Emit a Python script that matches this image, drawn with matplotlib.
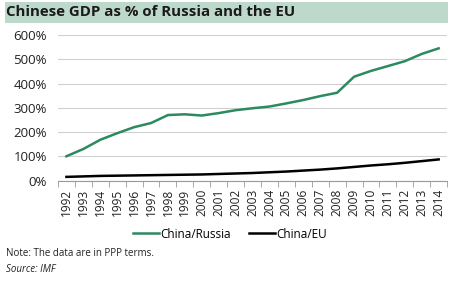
import matplotlib
matplotlib.use("Agg")
import matplotlib.pyplot as plt
from matplotlib.patches import Rectangle

years = [str(y) for y in range(1992, 2015)]
china_russia = [100, 130, 168, 195, 220, 237, 270, 273, 268, 278, 290, 298,
                305, 318, 332, 348, 362, 428, 452, 472, 492, 522, 545]
china_eu = [15, 17, 19, 20, 21, 22, 23, 24, 25, 27, 29, 31,
            34, 37, 41, 45, 50, 56, 62, 67, 73, 80, 87]
yticks = [0, 100, 200, 300, 400, 500, 600]

GREEN = "#2b8a5e"
plt.rcParams["font.family"] = ["Open Sans", "DejaVu Sans"]

fig = plt.figure(figsize=(4.6, 2.87), dpi=100)
ax = fig.add_axes([0.126, 0.371, 0.846, 0.507])

x = list(range(len(years)))
ax.plot(x, china_russia, color=GREEN, lw=1.8, label="China/Russia")
ax.plot(x, china_eu, color="black", lw=1.8, label="China/EU")

ax.set_xlim(-0.5, len(years) - 0.5)
ax.set_ylim(0, 600)
ax.set_yticks(yticks)
ax.set_yticklabels([f"{v}%" for v in yticks], fontsize=9.5, color="#222222")
ax.set_xticks(x)
ax.set_xticklabels(years, rotation=90, fontsize=8.6, color="#222222")
ax.set_xticks([i - 0.5 for i in range(len(years) + 1)], minor=True)
ax.tick_params(axis="x", which="major", length=0, pad=6)
ax.tick_params(axis="x", which="minor", length=4, color="#999999")
ax.tick_params(axis="y", length=0, pad=8)
ax.grid(axis="y", color="#d0d0d0", lw=0.8)
ax.set_axisbelow(True)
for s in ["left", "right", "top"]:
    ax.spines[s].set_visible(False)
ax.spines["bottom"].set_color("#999999")

# title band
fig.patches.append(Rectangle((5 / 460, 1 - 23 / 287), 443 / 460, 21 / 287,
                             transform=fig.transFigure, facecolor="#bcd9cb",
                             edgecolor="none", zorder=0))
fig.text(6 / 460, 1 - 12.5 / 287, "Chinese GDP as % of Russia and the EU",
         fontsize=10.8, fontweight="bold", color="#1a1a1a", va="center", ha="left")

fig.legend(loc="center", bbox_to_anchor=(0.5, 1 - 234 / 287), ncol=2,
           frameon=False, fontsize=8.5, handlelength=2.2, handletextpad=0.1,
           columnspacing=1.5)

fig.text(6 / 460, 1 - 253 / 287, "Note: The data are in PPP terms.",
         fontsize=7, color="#222222", va="center")
fig.text(6 / 460, 1 - 269 / 287, "Source: IMF", fontsize=7, style="italic",
         color="#222222", va="center")

fig.savefig("out.png", dpi=100)
